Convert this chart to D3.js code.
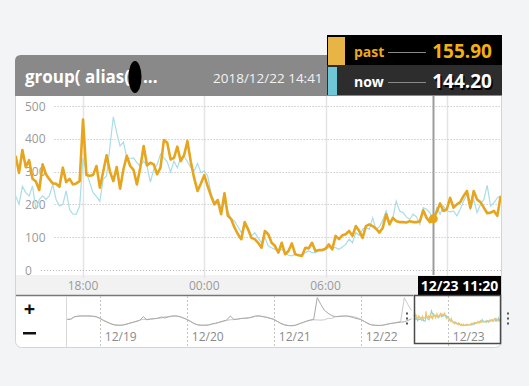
<!DOCTYPE html>
<html>
<head>
<meta charset="utf-8">
<script src="https://cdn.jsdelivr.net/npm/d3@7"></script>
<style>
  body { margin: 0; background: #f3f4f6; }
  svg { display: block; font-family: "Open Sans", sans-serif; }
</style>
</head>
<body>
<svg id="chart" width="529" height="386"></svg>
<script>
// main chart: 10 minute samples from 2018/12/22 14:40
var sampleStart = new Date(2018, 11, 22, 14, 40);
var sampleStepMin = 10;

var pastValues = [
  348, 296, 366, 314, 335, 278, 270, 244, 322, 292,
  277, 264, 263, 254, 312, 268, 278, 261, 264, 271,
  459, 290, 287, 290, 317, 251, 300, 350, 300, 271,
  314, 248, 307, 348, 317, 305, 261, 312, 378, 319,
  327, 322, 292, 312, 396, 388, 337, 342, 376, 332,
  350, 393, 330, 280, 241, 264, 289, 256, 226, 200,
  213, 170, 234, 165, 155, 129, 109, 94, 146, 124,
  98, 94, 83, 68, 119, 109, 83, 73, 53, 83,
  48, 58, 81, 48, 45, 43, 68, 66, 83, 58,
  61, 61, 65, 78, 63, 104, 94, 106, 109, 119,
  104, 134, 119, 98, 134, 139, 134, 126, 114, 129,
  170, 139, 159, 149, 146, 146, 145, 149, 146, 146,
  148, 182, 159, 146, 155.9, 177, 203, 180, 185, 220,
  190, 200, 207, 226, 241, 190, 241, 215, 207, 190,
  173, 175, 180, 165, 226
];

var nowValues = [
  226, 200, 255, 236, 226, 256, 185, 215, 226, 215,
  226, 261, 215, 195, 200, 241, 185, 170, 170, 195,
  342, 300, 266, 236, 224, 210, 277, 287, 378, 467,
  419, 378, 390, 342, 340, 342, 327, 317, 332, 317,
  268, 307, 322, 353, 342, 330, 299, 332, 312, 342,
  347, 330, 312, 302, 325, 297, 302, 287, 236, 207,
  215, 185, 205, 180, 156, 149, 132, 114, 139, 129,
  104, 114, 98, 83, 99, 73, 68, 63, 56, 63,
  53, 45, 43, 48, 45, 45, 53, 58, 53, 53,
  58, 58, 63, 68, 68, 68, 63, 70, 78, 94,
  83, 114, 106, 124, 129, 124, 159, 124, 132, 152,
  180, 144, 159, 210, 180, 175, 162, 154, 170, 162,
  139, 190, 185, 175, 144.2, 190, 170, 195, 180, 177,
  180, 165, 185, 210, 231, 185, 215, 175, 200, 215,
  258, 195, 205, 220, 226
];

// navigator: hourly samples from 2018/12/18 15:00
var navStart = new Date(2018, 11, 18, 15, 0);
var navNow = [
  220, 225, 300, 315, 320, 318, 322, 315, 300, 250, 190, 140, 95, 60, 50, 50, 70, 100, 130, 160, 190, 300, 210, 230,
  240, 255, 290, 260, 300, 320, 320, 300, 260, 220, 160, 100, 60, 50, 50, 60, 90, 110, 140, 170, 200, 320, 220, 230,
  250, 255, 260, 290, 320, 320, 300, 280, 250, 220, 160, 100, 60, 40, 35, 50, 90, 130, 170, 200, 220, 850, 650, 480,
  400, 330, 300, 305, 315, 320, 300, 270, 240, 220, 160, 100, 60, 50, 45, 50, 70, 95, 110, 125, 140, 150, 190, 240
];
var navPast = [
  225, 230, 290, 310, 325, 320, 315, 310, 295, 255, 200, 150, 100, 65, 55, 55, 75, 105, 135, 165, 200, 220, 215, 235,
  240, 250, 260, 300, 290, 315, 320, 310, 270, 225, 170, 110, 65, 55, 50, 55, 85, 105, 135, 165, 190, 210, 215, 225,
  245, 250, 265, 280, 310, 325, 305, 285, 255, 225, 165, 105, 65, 45, 40, 55, 95, 125, 165, 195, 210, 205, 200, 210,
  250, 250, 300, 310, 320, 320, 315, 300, 270, 220, 160, 100, 60, 50, 45, 50, 80, 100, 120, 140, 160, 850, 650, 480
];

var yTicks = [0, 100, 200, 300, 400, 500];
var seriesNames = ['past', 'now'];
var seriesColors = { past: '#e6a51d', now: '#a9dde7' };
var swatchColors = { past: '#e9b446', now: '#6fc6d5' };
var cursorTime = new Date(2018, 11, 23, 11, 20);
var titleText = 'group( alias(';
var headerDate = '2018/12/22 14:41';

var svg = d3.select('#chart');

var card = { x: 15, y: 55, w: 486, h: 292, r: 6 };
var plot = { left: 16, right: 501, top: 96, bottom: 275 };
var nav = { left: 66, right: 501, top: 296, bottom: 347 };
var cursorBox = { x: 418, w: 83 };

var times = pastValues.map(function(d, i) { return d3.timeMinute.offset(sampleStart, i * sampleStepMin); });
var navTimes = navNow.map(function(d, i) { return d3.timeHour.offset(navStart, i); });

var x = d3.scaleTime()
  .domain([new Date(2018, 11, 22, 14, 41), new Date(2018, 11, 23, 14, 41)])
  .range([plot.left, plot.right]);
var y = d3.scaleLinear().domain([0, 500]).range([270, 106]);

var nx = d3.scaleTime()
  .domain([new Date(2018, 11, 18, 14, 41), new Date(2018, 11, 23, 14, 41)])
  .range([nav.left, nav.right]);
var ny = d3.scaleLinear().domain([0, 900]).range([327, 296]);

var defs = svg.append('defs');
defs.append('clipPath').attr('id', 'plotClip')
  .append('rect').attr('x', plot.left).attr('y', plot.top)
  .attr('width', plot.right - plot.left).attr('height', plot.bottom - plot.top);
defs.append('clipPath').attr('id', 'grayClip')
  .append('rect').attr('x', nav.left).attr('y', nav.top)
  .attr('width', nx(x.domain()[0]) - nav.left).attr('height', nav.bottom - nav.top);

// card
svg.append('rect')
  .attr('x', card.x + 0.5).attr('y', card.y + 0.5)
  .attr('width', card.w).attr('height', card.h)
  .attr('rx', card.r)
  .attr('fill', '#fff').attr('stroke', '#d4d4d4');

// header (rounded top corners)
var hx0 = card.x, hx1 = card.x + card.w + 1, hy0 = card.y, hy1 = plot.top, r = card.r;
svg.append('path')
  .attr('d', 'M' + hx0 + ',' + hy1 + 'V' + (hy0 + r) + 'Q' + hx0 + ',' + hy0 + ' ' + (hx0 + r) + ',' + hy0 +
    'H' + (hx1 - r) + 'Q' + hx1 + ',' + hy0 + ' ' + hx1 + ',' + (hy0 + r) + 'V' + hy1 + 'Z')
  .attr('fill', '#898989');

svg.append('text')
  .attr('x', 25).attr('y', 83)
  .attr('fill', '#fff').attr('font-size', 17).attr('font-weight', 'bold')
  .text(titleText);
svg.append('ellipse')
  .attr('cx', 135).attr('cy', 77).attr('rx', 6.5).attr('ry', 16)
  .attr('fill', '#000');
svg.append('text')
  .attr('x', 143).attr('y', 83)
  .attr('fill', '#fff').attr('font-size', 17).attr('font-weight', 'bold')
  .text('...');
svg.append('text')
  .attr('x', 213).attr('y', 83)
  .attr('fill', '#f2f2f2').attr('font-size', 13.5)
  .text(headerDate);

// x axis band
svg.append('rect')
  .attr('x', plot.left).attr('y', plot.bottom)
  .attr('width', plot.right - plot.left).attr('height', 20)
  .attr('fill', '#f2f2f2');

// vertical time grid
var xTicks = x.ticks(d3.timeHour.every(6));
svg.append('g').selectAll('line')
  .data(xTicks)
  .join('line')
  .attr('x1', function(d) { return Math.round(x(d)) + 0.5; })
  .attr('x2', function(d) { return Math.round(x(d)) + 0.5; })
  .attr('y1', plot.top).attr('y2', plot.bottom + 3)
  .attr('stroke', '#e4e4e4').attr('stroke-width', 1.5);

// tick labels hidden under the cursor label are skipped
var shownTicks = xTicks.filter(function(d) {
  return x(d) + 16 < cursorBox.x || x(d) - 16 > cursorBox.x + cursorBox.w;
});
svg.append('g').selectAll('text')
  .data(shownTicks)
  .join('text')
  .attr('x', function(d) { return x(d); })
  .attr('y', 290)
  .attr('text-anchor', 'middle')
  .attr('fill', '#9a9a9a').attr('font-size', 12)
  .text(d3.timeFormat('%H:%M'));

// y grid with labels
var yg = svg.append('g');
yTicks.forEach(function(v) {
  var t = yg.append('text')
    .attr('x', 25).attr('y', y(v) + 4.5)
    .attr('fill', '#9a9a9a').attr('font-size', 12)
    .text(v);
  var w = t.node().getComputedTextLength();
  yg.append('line')
    .attr('x1', 25 + w + 9).attr('x2', plot.right)
    .attr('y1', Math.round(y(v)) + 0.5).attr('y2', Math.round(y(v)) + 0.5)
    .attr('stroke', '#b5b5b5').attr('stroke-dasharray', '1,2');
});

// series lines
var line = d3.line()
  .x(function(d, i) { return x(times[i]); })
  .y(function(d) { return y(d); });

var lines = svg.append('g').attr('clip-path', 'url(#plotClip)');
lines.append('path')
  .attr('d', line(nowValues))
  .attr('fill', 'none').attr('stroke', seriesColors.now).attr('stroke-width', 1.2);
lines.append('path')
  .attr('d', line(pastValues))
  .attr('fill', 'none').attr('stroke', seriesColors.past).attr('stroke-width', 2.6)
  .attr('stroke-linejoin', 'round');

// cursor
var ci = d3.bisectLeft(times, cursorTime);
var cx = Math.round(x(times[ci])) + 0.5;
svg.append('line')
  .attr('x1', cx).attr('x2', cx)
  .attr('y1', plot.top).attr('y2', plot.bottom)
  .attr('stroke', '#9c9c9c').attr('stroke-width', 2);
svg.append('circle')
  .attr('cx', x(times[ci])).attr('cy', y(pastValues[ci]))
  .attr('r', 4.5).attr('fill', seriesColors.past);

svg.append('rect')
  .attr('x', cursorBox.x).attr('y', 276).attr('width', cursorBox.w).attr('height', 20)
  .attr('fill', '#000');
svg.append('text')
  .attr('x', cursorBox.x + cursorBox.w / 2).attr('y', 291)
  .attr('text-anchor', 'middle')
  .attr('fill', '#fff').attr('font-size', 14).attr('font-weight', 'bold')
  .text(d3.timeFormat('%m/%d %H:%M')(cursorTime));

// tooltip panel
var tip = svg.append('g');
var rowY = { past: 35, now: 65 };
var rowFill = { past: '#000', now: '#2d2d2d' };
var swatchW = { past: 17, now: 9 };
var cursorValues = { past: pastValues[ci], now: nowValues[ci] };
seriesNames.forEach(function(name) {
  var ry = rowY[name];
  tip.append('rect').attr('x', 327).attr('y', ry).attr('width', 175).attr('height', 30)
    .attr('fill', rowFill[name]);
  tip.append('rect').attr('x', 328).attr('y', ry + 2).attr('width', swatchW[name]).attr('height', 28)
    .attr('fill', swatchColors[name]);
  var c = name === 'past' ? '#eaa91f' : '#fff';
  tip.append('text').attr('x', 354).attr('y', ry + 22)
    .attr('fill', c).attr('font-size', 14).attr('font-weight', 'bold')
    .text(name);
  tip.append('line').attr('x1', 388).attr('x2', 426)
    .attr('y1', ry + 17.5).attr('y2', ry + 17.5)
    .attr('stroke', '#8a8a8a');
  var valueText = tip.append('text').attr('x', 492).attr('y', ry + 23)
    .attr('text-anchor', 'end')
    .attr('fill', name === 'past' ? '#f2b111' : '#fff')
    .attr('font-size', 19).attr('font-weight', 'bold')
    .text(d3.format('.2f')(cursorValues[name]));
  if (name === 'now') valueText.style('text-shadow', '1.5px 1.5px 0 #000');
});

// navigator
svg.append('line')
  .attr('x1', plot.left).attr('x2', 413.5)
  .attr('y1', 295.5).attr('y2', 295.5)
  .attr('stroke', '#777').attr('stroke-width', 1.5);

svg.append('line')
  .attr('x1', nav.left + 0.5).attr('x2', nav.left + 0.5)
  .attr('y1', nav.top).attr('y2', nav.bottom)
  .attr('stroke', '#d8d8d8');

var days = nx.ticks(d3.timeDay.every(1));
svg.append('g').selectAll('line')
  .data(days)
  .join('line')
  .attr('x1', function(d) { return Math.round(nx(d)) + 0.5; })
  .attr('x2', function(d) { return Math.round(nx(d)) + 0.5; })
  .attr('y1', nav.top).attr('y2', nav.bottom)
  .attr('stroke', '#c4c4c4').attr('stroke-dasharray', '2,2');
svg.append('g').selectAll('text')
  .data(days)
  .join('text')
  .attr('x', function(d) { return nx(d) + 5; })
  .attr('y', 341)
  .attr('fill', '#8a8a8a').attr('font-size', 12)
  .text(d3.timeFormat('%m/%d'));

var navLine = d3.line()
  .x(function(d, i) { return nx(navTimes[i]); })
  .y(function(d) { return ny(d); });
var grayG = svg.append('g').attr('clip-path', 'url(#grayClip)');
grayG.append('path').attr('d', navLine(navPast))
  .attr('fill', 'none').attr('stroke', '#cacaca').attr('stroke-width', 1);
grayG.append('path').attr('d', navLine(navNow))
  .attr('fill', 'none').attr('stroke', '#a9a9a9').attr('stroke-width', 1);

var selLine = d3.line()
  .x(function(d, i) { return nx(times[i]); })
  .y(function(d) { return ny(d); });
svg.append('path').attr('d', selLine(nowValues))
  .attr('fill', 'none').attr('stroke', '#8fd3e0').attr('stroke-width', 1.2);
svg.append('path').attr('d', selLine(pastValues))
  .attr('fill', 'none').attr('stroke', '#efc56c').attr('stroke-width', 1.2);

// selection window
var selX0 = Math.round(nx(x.domain()[0])) + 0.5;
svg.append('rect')
  .attr('x', selX0).attr('y', 295.5)
  .attr('width', 500.5 - selX0).attr('height', 48)
  .attr('fill', 'none').attr('stroke', '#4a4a4a').attr('stroke-width', 1.5);

[407, 508].forEach(function(hx) {
  [313.5, 318.5, 323.5].forEach(function(hy) {
    svg.append('rect').attr('x', hx - 1).attr('y', hy - 1)
      .attr('width', 2).attr('height', 2).attr('fill', '#555');
  });
});

// zoom buttons
svg.append('text').attr('x', 29.5).attr('y', 316)
  .attr('text-anchor', 'middle').attr('font-size', 20).attr('font-weight', 'bold')
  .attr('fill', '#111').text('+');
svg.append('rect').attr('x', 23).attr('y', 332).attr('width', 13).attr('height', 2.5)
  .attr('fill', '#111');
</script>
</body>
</html>
